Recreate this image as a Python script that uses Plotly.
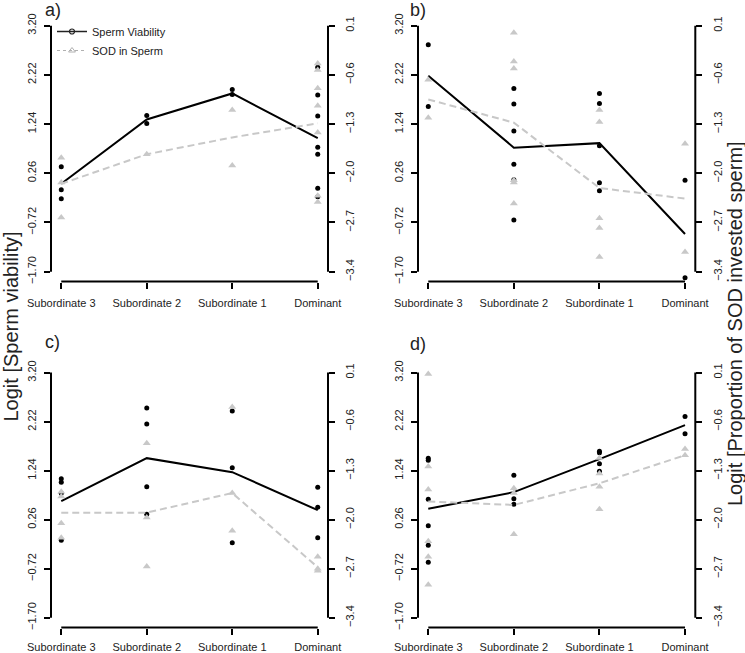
import plotly.graph_objects as go

categories = ["Subordinate 3", "Subordinate 2", "Subordinate 1", "Dominant"]
left_ticks = [-1.70, -0.72, 0.26, 1.24, 2.22, 3.20]
left_tick_labels = ["\u22121.70", "\u22120.72", "0.26", "1.24", "2.22", "3.20"]
right_ticks = [-3.4, -2.7, -2.0, -1.3, -0.6, 0.1]
right_tick_labels = ["\u22123.4", "\u22122.7", "\u22122.0", "\u22121.3", "\u22120.6", "0.1"]
panel_labels = ["a)", "b)", "c)", "d)"]
series_names = ["Sperm Viability", "SOD in Sperm"]
left_title = "Logit [Sperm viability]"
right_title = "Logit [Proportion of SOD invested sperm]"

# Panel a
a_viability = [[0.39, -0.07, -0.25], [1.41, 1.25], [1.93, 1.83],
               [2.37, 1.82, 1.40, 0.78, 0.64, -0.04, -0.21]]
a_sod = [[-1.78, -2.13, -2.63], [-1.73], [-1.10, -1.89],
         [-0.44, -0.53, -0.79, -1.04, -1.42, -2.32, -2.41]]
a_viab_mean = [0.05, 1.33, 1.85, 0.96]
a_sod_mean = [-2.15, -1.73, -1.49, -1.29]

# Panel b
b_viability = [[2.82, 1.59], [1.95, 1.64, 1.10, 0.44, 0.13, -0.67],
               [1.85, 1.65, 0.81, 0.07, -0.09], [0.12, -1.82]]
b_sod = [[-0.67, -1.21], [0.00, -0.41, -0.51, -2.10, -2.13, -2.43],
         [-1.10, -1.27, -2.64, -2.78, -3.19], [-1.58, -3.12]]
b_viab_mean = [2.20, 0.77, 0.86, -0.95]
b_sod_mean = [-0.95, -1.28, -2.21, -2.36]

# Panel c
c_viability = [[1.08, 1.01, 0.79, -0.15], [2.49, 2.17, 0.92, 0.37],
               [2.43, 1.30, -0.20], [0.91, 0.51, -0.10]]
c_sod = [[-1.60, -1.67, -2.05, -2.26], [-0.91, -1.97, -2.67],
         [-0.39, -1.62, -2.16], [-2.53, -2.70, -2.73]]
c_viab_mean = [0.63, 1.49, 1.21, 0.45]
c_sod_mean = [-1.90, -1.90, -1.62, -2.68]

# Panel d
d_viability = [[1.49, 1.45, 0.67, 0.14, -0.25, -0.59], [1.15, 0.68, 0.57],
               [1.63, 1.60, 1.38, 1.23], [2.32, 1.98]]
d_sod = [[0.08, -1.24, -1.57, -2.31, -2.53, -2.93], [-1.55, -1.62, -2.21],
         [-1.12, -1.34, -1.53, -1.85], [-0.99, -1.08]]
d_viab_mean = [0.48, 0.81, 1.47, 2.15]
d_sod_mean = [-1.74, -1.79, -1.48, -1.08]

W, H = 745, 653
FONT = "Liberation Sans, Arial, Helvetica, sans-serif"
BLACK = "#000000"
GREY = "#c8c8c8"
TXT = "#222222"

col_dom = [[51 / W, 328 / W], [418 / W, 695.3 / W]]
row_dom = [[1 - 281.5 / H, 1 - 15.8 / H], [1 - 627.5 / H, 1 - 362.8 / H]]
x_standoff = [5, 3]
label_pos = [(43, 10), (408, 10), (43, 342), (408, 344)]

panels = [
    (a_viability, a_sod, a_viab_mean, a_sod_mean),
    (b_viability, b_sod, b_viab_mean, b_sod_mean),
    (c_viability, c_sod, c_viab_mean, c_sod_mean),
    (d_viability, d_sod, d_viab_mean, d_sod_mean),
]

left_pad = (left_ticks[-1] - left_ticks[0]) * 0.04
right_pad = (right_ticks[-1] - right_ticks[0]) * 0.04

fig = go.Figure()
layout = dict(
    width=W, height=H, margin=dict(l=0, r=0, t=0, b=0, autoexpand=False),
    paper_bgcolor="white", plot_bgcolor="white",
    font=dict(family=FONT, size=11, color=TXT),
    showlegend=True,
)
shapes = []
annotations = []


def expand(groups):
    xs, ys = [], []
    for cat, vals in zip(categories, groups):
        xs += [cat] * len(vals)
        ys += vals
    return xs, ys


common_axis = dict(showgrid=False, zeroline=False, showline=False, automargin=False,
                   ticks="outside", ticklen=6, tickwidth=2, tickcolor=BLACK,
                   tickfont=dict(size=11, color=TXT))

for i, (viab, sod, viab_mean, sod_mean) in enumerate(panels):
    n = i + 1
    xid = "x" if n == 1 else f"x{n}"
    yl = "y" if n == 1 else f"y{2 * n - 1}"
    yr = f"y{2 * n}"
    xkey = "xaxis" if n == 1 else f"xaxis{n}"
    ylkey = "yaxis" if n == 1 else f"yaxis{2 * n - 1}"
    yrkey = f"yaxis{2 * n}"
    r, c = divmod(i, 2)

    xs, ys = expand(viab)
    fig.add_trace(go.Scatter(x=xs, y=ys, mode="markers", xaxis=xid, yaxis=yl,
                             marker=dict(color=BLACK, size=5, symbol="circle"),
                             showlegend=False, hoverinfo="skip"))
    fig.add_trace(go.Scatter(x=categories, y=viab_mean, mode="lines", xaxis=xid, yaxis=yl,
                             line=dict(color=BLACK, width=2), showlegend=False))
    xs, ys = expand(sod)
    fig.add_trace(go.Scatter(x=xs, y=ys, mode="markers", xaxis=xid, yaxis=yr,
                             marker=dict(color=GREY, size=7, symbol="triangle-up"),
                             showlegend=False, hoverinfo="skip"))
    fig.add_trace(go.Scatter(x=categories, y=sod_mean, mode="lines", xaxis=xid, yaxis=yr,
                             line=dict(color=GREY, width=2, dash="7px,4px"), showlegend=False))

    layout[xkey] = dict(
        domain=col_dom[c], anchor=yl, type="category", categoryarray=categories,
        categoryorder="array", range=[-0.12, len(categories) - 1 + 0.12],
        ticklabelstandoff=x_standoff[r], **common_axis,
    )
    layout[ylkey] = dict(
        domain=row_dom[r], anchor=xid,
        range=[left_ticks[0] - left_pad, left_ticks[-1] + left_pad],
        tickvals=left_ticks, ticktext=left_tick_labels, tickangle=-90,
        ticklabelstandoff=4, **common_axis,
    )
    layout[yrkey] = dict(
        overlaying=yl, anchor=xid, side="right",
        range=[right_ticks[0] - right_pad, right_ticks[-1] + right_pad],
        tickvals=right_ticks, ticktext=right_tick_labels, tickangle=-90,
        ticklabelstandoff=6, **common_axis,
    )
    # axis lines spanning only the tick range (R style)
    shapes.append(dict(type="line", xref=xid, yref=f"{yl} domain",
                       x0=categories[0], x1=categories[-1], y0=0, y1=0,
                       line=dict(color=BLACK, width=2)))
    shapes.append(dict(type="line", xref=f"{xid} domain", yref=yl,
                       x0=0, x1=0, y0=left_ticks[0], y1=left_ticks[-1],
                       line=dict(color=BLACK, width=2)))
    shapes.append(dict(type="line", xref=f"{xid} domain", yref=yr,
                       x0=1, x1=1, y0=right_ticks[0], y1=right_ticks[-1],
                       line=dict(color=BLACK, width=2)))
    lx, ly = label_pos[i]
    annotations.append(dict(text=panel_labels[i], xref="paper", yref="paper",
                            x=lx / W, y=1 - ly / H, xanchor="left", yanchor="middle",
                            showarrow=False, font=dict(size=18, color=TXT)))

# legend entries
fig.add_trace(go.Scatter(x=[None], y=[None], mode="lines+markers", name=series_names[0],
                         line=dict(color="#222222", width=1.5),
                         marker=dict(symbol="circle-open", size=5, color="#222222",
                                     line=dict(width=1.2)),
                         xaxis="x", yaxis="y", showlegend=True))
fig.add_trace(go.Scatter(x=[None], y=[None], mode="lines+markers", name=series_names[1],
                         line=dict(color="#b0b0b0", width=1.2, dash="3px,3px"),
                         marker=dict(symbol="triangle-up-open", size=6, color="#b0b0b0",
                                     line=dict(width=1)),
                         xaxis="x", yaxis="y2", showlegend=True))

layout["legend"] = dict(x=52 / W, y=1 - 17 / H, xanchor="left", yanchor="top",
                        bgcolor="rgba(0,0,0,0)", font=dict(size=11, color=TXT),
                        itemwidth=30, tracegroupgap=0)

annotations.append(dict(text=left_title, xref="paper", yref="paper",
                        x=10 / W, y=1 - 326.5 / H, xanchor="center", yanchor="middle",
                        textangle=-90, showarrow=False, font=dict(size=20, color=TXT)))
annotations.append(dict(text=right_title, xref="paper", yref="paper",
                        x=735 / W, y=1 - 324 / H, xanchor="center", yanchor="middle",
                        textangle=-90, showarrow=False, font=dict(size=20, color=TXT)))

layout["shapes"] = shapes
layout["annotations"] = annotations
fig.update_layout(**layout)
fig.write_html("out.html", config={"displayModeBar": False},
               post_script="document.body.style.margin='0px';")
